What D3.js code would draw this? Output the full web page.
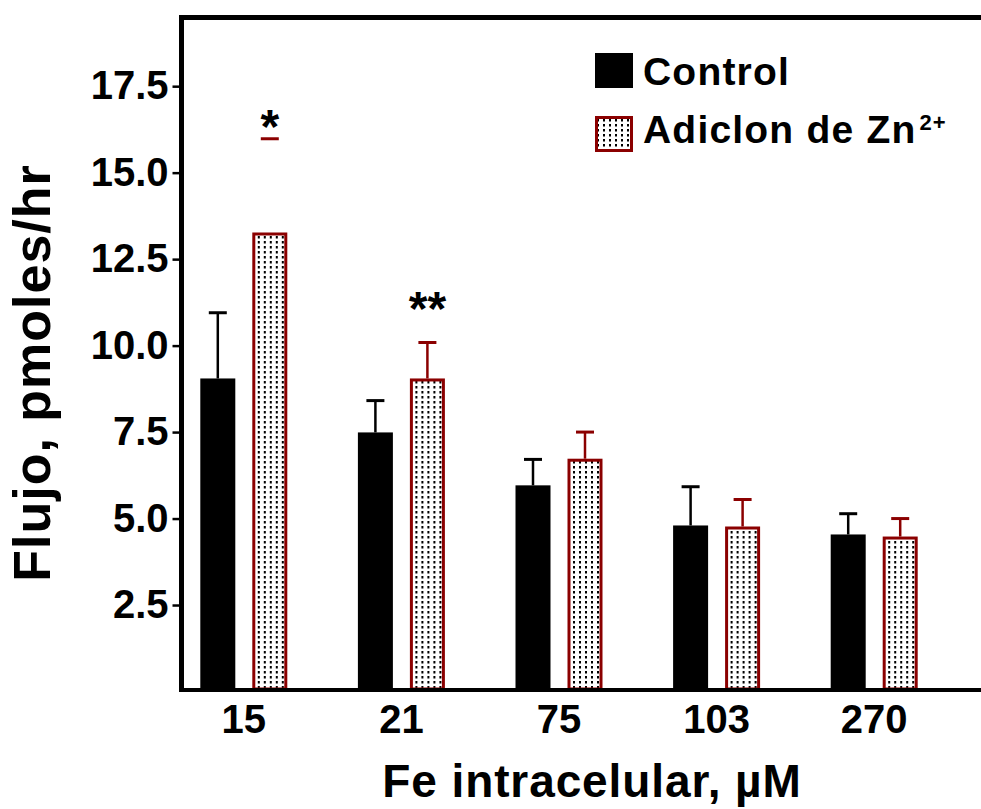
<!DOCTYPE html>
<html>
<head>
<meta charset="utf-8">
<script src="https://cdn.jsdelivr.net/npm/d3@7"></script>
<style>
  body { margin: 0; background: #fff; }
  text { font-family: "Liberation Sans", Arial, sans-serif; font-weight: bold; }
</style>
</head>
<body>
<svg id="chart" width="981" height="809"></svg>
<script>
// data
const categories = ["15", "21", "75", "103", "270"];
const seriesNames = ["Control", "Adicion de Zn"];
const controlMean = [9.05, 7.49, 5.96, 4.80, 4.54];
const controlErr = [1.90, 0.92, 0.75, 1.12, 0.60];
const zincMean = [13.27, 9.05, 6.73, 4.77, 4.48];
const zincErr = [2.71, 1.04, 0.77, 0.78, 0.52];
const yTicks = [2.5, 5.0, 7.5, 10.0, 12.5, 15.0, 17.5];
const sigMarks = [{ cat: "15", text: "*", y: 16.85 }, { cat: "21", text: "**", y: 11.6 }];
const capOnly = ["15"]; // zinc error bar at 15 shows only the cap

const red = "#8b0000";
const svg = d3.select("#chart");

// dotted fill
const defs = svg.append("defs");
const pat = defs.append("pattern")
  .attr("id", "dots")
  .attr("patternUnits", "userSpaceOnUse")
  .attr("width", 6).attr("height", 5);
pat.append("rect").attr("width", 6).attr("height", 5).attr("fill", "#fff");
pat.append("rect").attr("x", 2).attr("y", 1).attr("width", 2).attr("height", 2.5).attr("fill", "#000");

const yScale = d3.scaleLinear().domain([0, 19.5]).range([691.5, 17]);
const xScale = d3.scaleBand().domain(categories).range([165, 953]);
const xSub = d3.scaleBand().domain(seriesNames)
  .range([-43.5, 43.5]).paddingInner(17 / 52);

const rows = categories.map((c, i) => ({
  cat: c,
  values: [
    { name: seriesNames[0], mean: controlMean[i], err: controlErr[i] },
    { name: seriesNames[1], mean: zincMean[i], err: zincErr[i] }
  ]
}));

const groups = svg.append("g").selectAll("g")
  .data(rows)
  .enter()
  .append("g")
  .attr("transform", d => "translate(" + (xScale(d.cat) + xScale.bandwidth() / 2) + ",0)");

// bars (zinc bars inset by half their outline)
groups.selectAll("rect")
  .data(d => d.values)
  .enter()
  .append("rect")
  .attr("x", d => xSub(d.name) + (d.name === seriesNames[1] ? 1.5 : 0))
  .attr("width", d => xSub.bandwidth() - (d.name === seriesNames[1] ? 3 : 0))
  .attr("y", d => yScale(d.mean) + (d.name === seriesNames[1] ? 1.5 : 0))
  .attr("height", d => yScale(0) - yScale(d.mean) - (d.name === seriesNames[1] ? 4 : 0))
  .attr("fill", d => d.name === seriesNames[0] ? "#000" : "url(#dots)")
  .attr("stroke", d => d.name === seriesNames[0] ? "none" : red)
  .attr("stroke-width", 3);

// error bars
groups.each(function (row) {
  const g = d3.select(this);
  row.values.forEach(d => {
    const cx = xSub(d.name) + xSub.bandwidth() / 2;
    const col = d.name === seriesNames[0] ? "#000" : red;
    const top = yScale(d.mean + d.err);
    const hideStem = d.name === seriesNames[1] && capOnly.includes(row.cat);
    if (!hideStem) {
      g.append("line")
        .attr("x1", cx).attr("x2", cx)
        .attr("y1", yScale(d.mean)).attr("y2", top)
        .attr("stroke", col).attr("stroke-width", 2.5);
    }
    g.append("line")
      .attr("x1", cx - 9).attr("x2", cx + 9)
      .attr("y1", top).attr("y2", top)
      .attr("stroke", col).attr("stroke-width", 3);
  });
});

// significance marks
svg.append("g").selectAll("text")
  .data(sigMarks)
  .enter()
  .append("text")
  .attr("x", d => xScale(d.cat) + xScale.bandwidth() / 2 + xSub(seriesNames[1]) + xSub.bandwidth() / 2)
  .attr("y", d => yScale(d.y))
  .attr("dy", "0.72em")
  .attr("text-anchor", "middle")
  .attr("font-size", 48)
  .text(d => d.text);

// y axis
const yAxis = svg.append("g")
  .attr("transform", "translate(181.5,0)")
  .call(d3.axisLeft(yScale).tickValues(yTicks).tickFormat(d3.format(".1f"))
    .tickSize(9).tickSizeOuter(0).tickPadding(4));
yAxis.select(".domain").attr("stroke-width", 5).attr("d", "M0,692V15");
yAxis.selectAll(".tick line").attr("stroke-width", 2.5);
yAxis.selectAll(".tick text").attr("font-size", 40).attr("fill", "#000")
  .attr("font-family", "Liberation Sans, Arial, sans-serif").attr("font-weight", "bold");

// x axis
const xAxis = svg.append("g")
  .attr("transform", "translate(0,690)")
  .call(d3.axisBottom(xScale).tickSize(0).tickPadding(0));
xAxis.select(".domain").attr("stroke-width", 4).attr("d", "M181,0H981");
xAxis.selectAll(".tick text").attr("font-size", 40).attr("fill", "#000")
  .attr("font-family", "Liberation Sans, Arial, sans-serif").attr("font-weight", "bold")
  .attr("dy", null).attr("y", 43);

// top frame line
svg.append("line")
  .attr("x1", 179).attr("x2", 981).attr("y1", 17.5).attr("y2", 17.5)
  .attr("stroke", "#000").attr("stroke-width", 5);

// axis titles
svg.append("text")
  .attr("transform", "translate(50,373) rotate(-90)")
  .attr("text-anchor", "middle")
  .attr("font-size", 52)
  .attr("letter-spacing", 1)
  .text("Flujo, pmoles/hr");

svg.append("text")
  .attr("x", 592).attr("y", 797)
  .attr("text-anchor", "middle")
  .attr("font-size", 46)
  .attr("letter-spacing", 0.9)
  .text("Fe intracelular, \u00b5M");

// legend
const legend = svg.append("g").attr("transform", "translate(595,53)");
legend.append("rect").attr("width", 38).attr("height", 35).attr("fill", "#000");
legend.append("text").attr("x", 48).attr("y", 32)
  .attr("font-size", 39).attr("letter-spacing", 1.2).text("Control");
legend.append("rect").attr("x", 1.5).attr("y", 64.5).attr("width", 35).attr("height", 33)
  .attr("fill", "url(#dots)").attr("stroke", red).attr("stroke-width", 3);
const zt = legend.append("text").attr("x", 48).attr("y", 90)
  .attr("font-size", 39).attr("letter-spacing", 1.2);
zt.append("tspan").text("Adiclon de Zn");
zt.append("tspan").attr("font-size", 22).attr("dx", 3).attr("dy", -13).attr("letter-spacing", 1).text("2+");
</script>
</body>
</html>
